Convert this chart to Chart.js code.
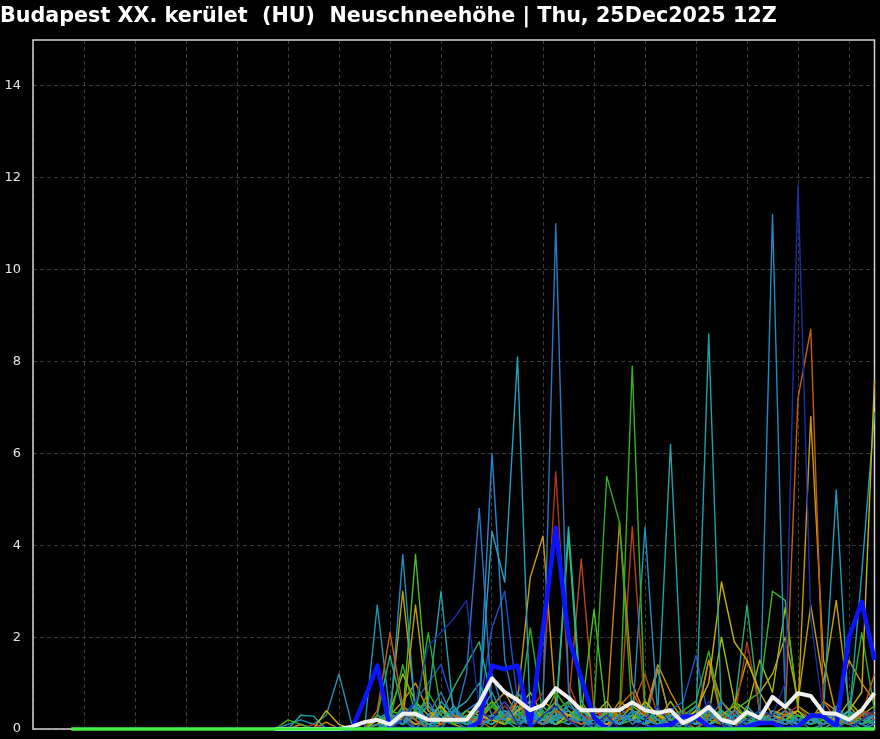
<!DOCTYPE html>
<html><head><meta charset="utf-8">
<script src="https://cdn.jsdelivr.net/npm/chart.js@4.4.1/dist/chart.umd.min.js"></script>
<style>html,body{margin:0;padding:0;background:#000;overflow:hidden}#wrap{width:880px;height:739px;position:relative}</style>
</head><body><div id="wrap"><canvas id="c" width="880" height="739"></canvas></div>
<script>
const titleText = "Budapest XX. kerület  (HU)  Neuschneehöhe | Thu, 25Dec2025 12Z";

// forecast hours counted from 00Z 25 Dec (run 12Z), 6-hourly
const hours = [18,24,30,36,42,48,54,60,66,72,78,84,90,96,102,108,
  114,120,126,132,138,144,150,156,162,168,174,180,186,192,198,204,
  210,216,222,228,234,240,246,252,258,264,270,276,282,288,294,300,
  306,312,318,324,330,336,342,348,354,360,366,372,378,384,390,396];
const dayTicks = [0,24,48,72,96,120,144,168,192,216,240,264,288,312,336,360,384];
const yTicks = [0,2,4,6,8,10,12,14];

// bright green base line (all zero)
const zeroLine = [0,0,0,0,0,0,0,0,0,0,0,0,0,0,0,0,0,0,0,0,0,0,0,0,0,0,0,0,0,0,0,0,
  0,0,0,0,0,0,0,0,0,0,0,0,0,0,0,0,0,0,0,0,0,0,0,0,0,0,0,0,0,0,0,0];

// members & mean from hour 114 on (earlier steps are zero)
const memberHours = hours.slice(16);

const ensMean = [0,0,0,0,0,0,0.05,0.15, 0.2,0.1,0.33,0.33,0.2,0.2,0.2,0.2,
  0.56,1.1,0.8,0.63,0.41,0.52,0.89,0.68, 0.41,0.41,0.41,0.41,0.58,0.41,0.35,0.41,
  0.13,0.27,0.48,0.2,0.13,0.37,0.24,0.7, 0.48,0.78,0.72,0.35,0.33,0.2,0.41,0.78];
const control = [0,0,0,0,0,0,0,0.65, 1.38,0,0,0,0,0,0,0,
  0.15,1.38,1.3,1.38,0.07,2.2,4.38,2.0, 1.1,0.25,0,0,0,0,0.05,0.1,
  0.27,0.27,0.05,0,0,0.05,0.13,0.13, 0,0.05,0.3,0.28,0.05,2.0,2.77,1.5];

const m01 = [0,0,0,0,0,0,0,0, 0,0,0.2,0.6,1.8,2.1,2.4,2.8, 0.4,0.2,0.6,0.1,0,0.3,0.5,0.2,
  0,0.1,0.3,0,0,0.2,0.5,0.1, 0,0.2,0.6,0.1,0,0.2,0.4,0.3, 1.0,11.85,2.4,0.3,0.1,0,0.2,0.4];
const m02 = [0,0,0,0,0,0,0,0, 0,0.2,0.4,0,0.3,0.8,0.2,0, 0.5,1.2,0.3,0.2,0.1,0.6,11.0,0.8,
  0.2,0.1,0,0.3,0.2,0.1,0,0.3, 0.1,0,0.2,0.6,0.2,0,0.1,0.3, 0.1,0.2,0,0.1,0.3,0.1,0,0.2];
const m03 = [0,0,0,0,0,0,0,0, 0.1,0,0.3,0.5,0.2,0,0.4,0.2, 0,0.3,0.2,0.8,0.4,0.1,0.2,0.5,
  0.3,0,0.2,0.1,0.4,0.2,0.1,0, 0.2,0.5,0.1,0,0.3,0.1,0.2,11.2, 0.5,0.2,0.1,0.3,0,0.2,0.1,0];
const m04 = [0,0,0,0,0,0,0,0, 0.4,2.1,0.5,0.2,0,0.1,0.3,0.2, 0.2,0,0.3,0.6,0.2,0.1,0.4,0.2,
  0.1,0.3,0,0.5,0.8,0.3,0.1,0, 0.2,0,0.3,0.1,0,0.4,0.2,0.1, 0.3,7.2,8.7,0.6,0.2,0.1,0.3,1.2];
const m05 = [0,0,0,0,0,0,0,0, 0,0.3,0.1,0.6,0,0.2,0.5,0.1, 0.3,0.8,0.2,0,0.4,0.2,0.1,0.6,
  0.2,0,0.4,0.1,0.3,0.5,0.2,0, 0.1,0.2,8.6,0.3,0,0.2,0.1,0.4, 0.2,0,0.3,0.1,0.5,0.2,0,0.1];
const m06 = [0,0,0,0,0,0,0,0, 0,0.1,0.4,0.2,0,0.6,0.3,0.2, 0.5,4.3,3.2,8.1,0.2,0.1,0.3,0.4,
  0.1,0.2,0,0.3,0.2,0.1,0.4,0.2, 0,0.3,0.1,0.2,0,0.5,0.2,0.1, 0.2,0.1,0.3,0,0.2,0.4,0.1,0.3];
const m07 = [0,0.2,0.1,0,0,0,0,0, 0.3,0.1,0.5,0.2,0.8,0.3,0.1,0.4, 0.2,0.6,0.1,0.3,0.5,0.2,0.8,0.4,
  0.2,0.1,0.3,0.3,7.9,0.4,0.1,0.2, 0.3,0.5,0.2,0.1,0.6,0.2,0.4,0.1, 0.2,0.3,0.1,0.2,0,0.3,0.1,0.2];
const m08 = [0,0,0,0,0.4,0.1,0,0, 0.2,0,0.3,0.1,0.2,0.5,0.1,0, 0.3,0.2,0.1,0.4,0.6,0.2,0.1,0.3,
  0.5,0.2,0.1,0.3,0.2,0.6,0.3,0.2, 0.1,0.4,1.0,3.2,1.9,1.5,0.8,0.3, 0.2,0.4,0.1,0.3,0.2,0.4,0.8,7.6];
const m09 = [0,0,0,0,0,0,0,0, 0,0.2,0.1,0.3,0,0.4,0.2,0.1, 0.2,0.1,0.4,0.2,0.3,0.1,0.5,0.2,
  0,0.3,0.2,0.1,0.4,0.2,0.1,0.3, 0.2,0.1,0.3,0.2,0.1,0.4,0.2,0.1, 0.3,0.2,0.1,0.4,5.2,0.2,3.4,6.9];
const m10 = [0,0,0,0,0,0,0,0, 0.1,0.3,0.2,2.7,0.4,0.1,0.3,0.2, 0.4,0.2,0.1,0.6,3.3,4.2,0.5,0.3,
  0.2,0.1,0.4,0.3,0.2,0.6,0.3,0.1, 0.2,0.4,0.1,0.3,0.5,0.2,0.1,0.4, 0.3,0.4,6.8,1.5,0.3,0.1,0.2,0.4];
const m11 = [0,0,0.3,0.28,0,0,0,0, 0.2,0,0.5,0.3,0.1,0.2,0.4,0.6, 1.0,0.3,0.2,0.4,0.1,0.5,0.2,0.3,
  0.4,0.2,0.1,0.3,0.2,0.1,0.4,6.2, 0.3,0.1,0.2,0.4,0.2,0.1,0.3,0.2, 0.1,0.3,0.2,0.1,0.4,0.2,0.1,0.3];
const m12 = [0,0,0,0,0,0,0,0, 0,0.1,0.2,0,0.3,0.2,0.1,0.4, 0.6,6.0,1.5,0.3,0.2,0.1,0.4,0.2,
  0.3,0.1,0.2,0.5,0.1,0.3,0.2,0.1, 0,0.2,0.4,0.1,0.3,0.2,0.1,0.2, 0.4,0.1,0.2,0.3,0.1,0.2,0.4,0.1];
const m13 = [0,0,0,0.1,0,0,0,0, 0.2,0.1,0.3,0.2,0,0.1,0.3,0.2, 0.1,0.3,0.5,0.2,0.4,0.8,5.6,1.0,
  0.3,0.2,0.1,0.4,0.6,0.3,0.2,0.1, 0.4,0.2,0.1,0.3,0.2,1.9,0.4,0.2, 0.3,0.5,0.2,0.1,0.3,0.2,0.4,0.3];
const m14 = [0,0,0,0,0,0,0,0, 0.1,0.2,1.4,0.3,2.1,0.4,0.2,0.1, 0.3,0.5,0.2,0.1,2.2,0.3,0.4,0.6,
  0.2,0.4,5.5,4.5,0.3,0.2,0.1,0.3, 0.2,0.1,0.3,0.4,0.2,0.3,0.1,0.2, 0.4,0.1,0.3,0.2,0.1,0.3,0.2,0.1];
const m15 = [0,0,0,0,0,0,0,0, 0.2,0.4,0.1,0.3,0.6,0.2,0.1,1.2, 4.8,0.5,0.2,0.1,0.3,0.2,0.6,0.3,
  0.1,0.2,0.3,0.1,0.4,0.2,0.1,0.2, 0.3,0.1,0.2,0.4,0.1,0.3,0.2,0.1, 0.2,0.1,0.3,0.2,0.4,0.1,0.2,0.3];
const m16 = [0,0,0,0,0,0,0,0, 0.3,0.2,3.8,0.3,0.5,0.2,0.4,0.1, 0.2,0.3,0.1,0.5,0.2,0.1,0.3,0.2,
  0.4,0.2,0.1,0.3,0.2,4.4,0.3,0.1, 0.2,0.3,0.1,0.2,0.4,0.1,0.2,0.3, 0.1,0.2,0.3,0.1,0.2,0.3,0.1,0.2];
const m17 = [0,0,0.1,0,0,0,0,0, 0,0.1,0.2,0.3,0.1,0.2,0.4,0.2, 0.1,0.3,0.6,0.2,0.4,0.2,0.1,0.3,
  0.2,0.1,0.3,4.5,1.0,0.3,1.3,0.2, 0.3,0.1,1.5,0.2,0.4,0.1,0.3,0.2, 0.4,0.2,0.1,0.3,0.2,0.1,0.4,0.3];
const m18 = [0,0,0,0,0,0,0,0, 0.1,0,0.2,0.1,0.3,0.2,0.1,0.4, 0.2,0.3,0.1,0.6,0.2,0.3,0.4,0.2,
  0.3,0.5,0.2,0.1,4.4,0.3,0.2,0.4, 0.2,0.1,0.3,0.2,0.1,0.4,0.2,0.3, 0.1,0.3,0.2,0.4,0.1,0.2,0.3,0.2];
const m19 = [0,0,0,0,0,0,0,0, 0.2,0.3,0.1,0.4,0.2,0.1,0.3,0.2, 0.1,0.2,0.4,0.3,0.1,0.2,0.3,4.4,
  0.6,0.2,0.1,0.3,0.2,0.4,0.1,0.3, 0.2,0.3,0.1,0.2,0.4,0.3,0.2,0.1, 0.3,0.1,0.2,0.3,0.1,0.4,0.2,0.1];
const m20 = [0,0,0,0,0,0,0,0, 0.2,0.4,0.3,3.8,0.5,0.2,0.1,0.3, 0.2,0.1,0.3,0.2,0.4,0.3,0.2,4.2,
  0.3,2.6,0.2,0.1,0.3,0.2,0.4,0.1, 0.2,0.1,0.3,0.2,0.1,0.2,0.3,0.1, 0.2,0.3,0.1,0.2,0.4,0.1,0.2,0.3];
const m21 = [0,0,0,0,0,0,0,0, 0.1,0.2,0.1,0.3,0.2,0.4,0.1,0.2, 0.3,0.2,0.4,0.1,0.2,0.3,0.2,0.5,
  3.7,0.4,0.2,0.3,0.5,1.2,0.3,0.2, 0.1,0.3,0.2,0.1,0.4,0.2,0.1,0.3, 0.2,0.1,0.3,0.2,0.1,0.3,0.4,0.2];
const m22 = [0,0,0,0,0,0,0,0, 0.3,0.1,0.2,0.4,0.6,3.0,0.3,0.2, 0.4,0.2,0.3,0.1,0.2,0.4,0.1,0.3,
  0.2,0.1,0.4,0.2,0.3,0.1,1.3,0.2, 0.1,0.3,0.2,0.4,0.1,0.2,0.3,0.1, 0.3,0.2,0.1,0.3,0.2,0.1,0.4,0.2];
const m23 = [0,0,0,0,0,0,0,0, 0.2,0.3,3.0,0.4,0.2,0.1,0.3,0.2, 0.1,0.2,0.3,0.5,0.2,0.1,0.2,0.3,
  0.4,0.2,0.1,0.3,0.2,0.1,0.3,0.2, 0.1,0.2,0.4,0.3,0.5,1.5,0.8,1.2, 2.0,0.6,2.7,1.0,2.8,0.5,0.2,0.3];
const m24 = [0,0,0,0,0,0,0,0, 0.1,0.2,0.3,0.1,0.2,0.4,0.2,0.1, 0.3,0.2,0.1,0.4,0.2,0.3,0.1,0.2,
  0.2,0.4,0.3,0.1,0.2,0.3,0.1,0.4, 0.2,0.3,0.1,0.2,0.4,0.6,0.8,3.0, 2.8,0.4,0.2,0.1,0.3,0.2,0.1,0.3];
const m25 = [0,0,0,0,0,0,0,0, 0.3,1.6,0.4,0.2,0.5,0.3,0.9,1.4, 1.9,0.6,0.3,0.2,0.4,0.1,0.3,0.2,
  0.4,0.2,0.1,0.3,0.2,0.1,0.3,0.2, 0.1,0.2,0.3,0.1,0.4,2.7,0.3,0.2, 0.1,0.3,0.2,0.4,0.1,0.2,0.3,0.1];
const m26 = [0,0.1,0.2,0.1,0.3,1.2,0.1,0, 2.7,0.3,0.2,0.4,0.1,0.2,0.3,0.1, 0.2,0.3,0.1,0.2,0.4,0.3,0.2,0.1,
  0.3,0.2,0.4,0.1,0.2,0.3,0.1,0.2, 0.4,0.1,0.2,0.3,0.1,0.2,0.4,0.3, 0.2,0.1,0.3,0.2,0.4,0.1,0.2,0.3];
const m27 = [0,0,0,0,0,0,0,0, 0.1,0.3,0.2,0.4,0.1,0.2,0.3,0.2, 0.2,0.1,0.3,0.2,0.1,0.3,0.2,0.4,
  0.2,0.3,0.1,0.2,0.3,0.1,0.2,0.3, 0.4,0.6,1.7,0.3,0.2,0.1,0.3,0.2, 0.1,0.2,0.3,0.1,0.2,0.3,2.1,0.4];
const m28 = [0,0,0,0,0,0,0,0, 0.1,0.2,0.3,0.6,1.0,1.4,0.5,0.2, 0.4,2.2,3.0,0.6,0.3,0.2,0.4,0.1,
  0.2,0.3,0.1,0.2,0.3,0.1,0.2,0.4, 0.6,1.6,0.2,0.1,0.3,0.2,0.1,0.4, 0.2,0.3,0.1,0.2,0.3,0.1,0.2,0.1];
const m29 = [0,0,0.1,0,0.15,0,0,0, 0.2,0.3,0.6,1.0,0.4,0.2,0.1,0.3, 0.2,0.5,0.8,0.3,0.2,0.6,0.4,0.3,
  0.5,0.3,0.2,0.6,0.4,0.3,1.4,0.8, 0.3,0.2,1.5,0.6,0.3,0.2,0.4,0.3, 0.5,0.3,0.2,0.6,0.4,1.5,1.0,0.6];
const m30 = [0,0,0,0,0,0,0,0, 0.1,0.4,1.2,0.6,0.3,0.5,0.2,0.4, 0.3,0.6,0.2,0.4,0.8,0.3,0.6,0.2,
  0.4,0.3,0.6,0.2,0.5,0.3,0.2,0.6, 0.2,0.4,0.3,2.0,0.6,0.4,1.5,0.8, 2.65,0.5,0.3,0.4,0.2,0.6,0.3,0.5];

const members = [m01,m02,m03,m04,m05,m06,m07,m08,m09,m10,m11,m12,m13,m14,m15,
                 m16,m17,m18,m19,m20,m21,m22,m23,m24,m25,m26,m27,m28,m29,m30];
const memberColors = ['#1c2ca8','#2a78c0','#1e8cc4','#c4600c','#1fa0a4','#26a0bc','#34b414','#c8b400',
  '#1e9cb8','#c89c00','#20a4a8','#2284d0','#b43418','#2cb020','#2a74c8','#1f90c0','#d08210','#b84010',
  '#24b0b0','#48c020','#c04818','#1ea4b4','#c0a400','#38b830','#20b080','#2096b4','#2cb02c','#2050c8',
  '#d09000','#a0c000'];

function pts(xs, ys){ return ys.map((v,k)=>({x: xs[k], y: v})); }

const datasets = [];
datasets.push({data: pts(hours, zeroLine), borderColor:'#44f044', borderWidth:3.5});
datasets.push({data: pts(memberHours, ensMean), borderColor:'#f0f0f0', borderWidth:4});
datasets.push({data: pts(memberHours, control), borderColor:'#0a14ff', borderWidth:4.5});
members.forEach((m,k)=>datasets.push({data: pts(memberHours, m), borderColor: memberColors[k], borderWidth:1.4}));
datasets.forEach(d=>{ d.pointRadius=0; d.tension=0; d.fill=false; d.clip=false; d.borderJoinStyle='round'; });

const framePlugin = {
  id:'frame',
  beforeDatasetsDraw(chart){
    const {ctx, chartArea:a} = chart;
    ctx.save(); ctx.strokeStyle='#d4d4d4'; ctx.lineWidth=1.5;
    ctx.strokeRect(a.left, a.top, a.right-a.left, a.bottom-a.top);
    ctx.restore();
  },
  afterDraw(chart){
    const ctx = chart.ctx;
    ctx.save(); ctx.fillStyle='#ffffff'; ctx.font='bold 20.7px "DejaVu Sans"';
    ctx.textBaseline='middle'; ctx.textAlign='left';
    ctx.fillText(titleText, 0, 17);
    ctx.restore();
  }
};

new Chart(document.getElementById('c'), {
  type:'line',
  data:{datasets},
  options:{
    responsive:false, animation:false, devicePixelRatio:1,
    layout:{padding:{top:40,right:5.5,bottom:10,left:0}},
    plugins:{legend:{display:false}, tooltip:{enabled:false}, title:{display:false}},
    scales:{
      x:{type:'linear', min:0, max:396,
        afterBuildTicks:s=>{ s.ticks = dayTicks.map(v=>({value:v})); },
        afterFit:s=>{ s.height = 0; s.paddingLeft = 0; s.paddingRight = 0; },
        ticks:{display:false},
        grid:{color:'#3c3c32', lineWidth:1, drawTicks:false},
        border:{display:false, dash:[4,3]}},
      y:{min:0, max:15,
        afterBuildTicks:s=>{ s.ticks = yTicks.map(v=>({value:v})); },
        afterFit:s=>{ s.width = 33; s.paddingTop = 0; s.paddingBottom = 0; },
        ticks:{color:'#e6e6e6', font:{family:'DejaVu Sans', size:13}, padding:12},
        grid:{color:'#3c3c32', lineWidth:1, drawTicks:false},
        border:{display:false, dash:[4,3]}}
    }
  },
  plugins:[framePlugin]
});
</script></body></html>
